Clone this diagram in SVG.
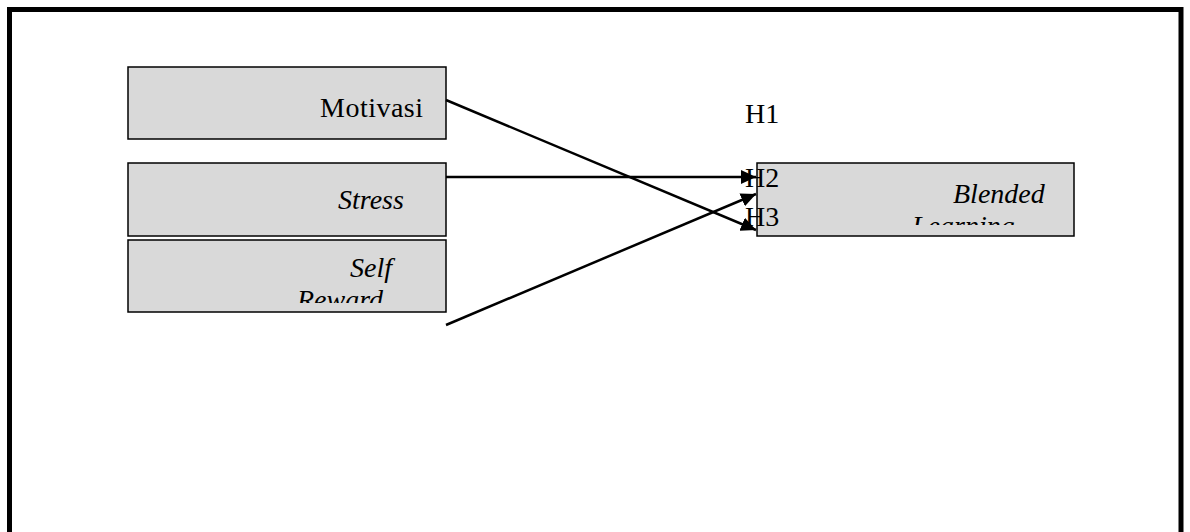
<svg xmlns="http://www.w3.org/2000/svg" width="1190" height="532" viewBox="0 0 1190 532">
<style>
.box{fill:#d9d9d9;stroke:#000;stroke-width:1.5}
.t{font-family:"Liberation Serif","Times New Roman",serif;font-size:28px;fill:#000}
.i{font-style:italic}
.c{stroke:#000;stroke-width:2.5;fill:none}
</style>
<defs>
<marker id="ah" markerUnits="userSpaceOnUse" markerWidth="16" markerHeight="14" refX="15" refY="7" orient="auto">
<path d="M0,0 L15,7 L0,14 Z" fill="#000"/>
</marker>
<clipPath id="clipSR"><rect x="129" y="241" width="316" height="62"/></clipPath>
<clipPath id="clipBL"><rect x="758" y="164" width="315" height="61"/></clipPath>
</defs>
<rect width="1190" height="532" fill="#fff"/>
<path d="M9.5,545 V9.5 H1181 V545" fill="none" stroke="#000" stroke-width="5"/>
<g id="motivasi">
<rect class="box" x="128" y="67" width="318" height="72"/>
<text class="t" x="320" y="117" textLength="103">Motivasi</text>
</g>
<g id="stress">
<rect class="box" x="128" y="163" width="318" height="73"/>
<text class="t i" x="338" y="209">Stress</text>
</g>
<g id="self-reward">
<rect class="box" x="128" y="240" width="318" height="72"/>
<g clip-path="url(#clipSR)">
<text class="t i" x="350" y="277">Self</text>
<text class="t i" x="297" y="309">Reward</text>
</g>
</g>
<g id="blended-learning">
<rect class="box" x="757" y="163" width="317" height="73"/>
<g clip-path="url(#clipBL)">
<text class="t i" x="953" y="203">Blended</text>
<text class="t i" x="912" y="235">Learning</text>
</g>
</g>
<g id="connectors">
<line class="c" x1="446" y1="100" x2="756" y2="230" marker-end="url(#ah)"/>
<line class="c" x1="446" y1="177" x2="756" y2="177" marker-end="url(#ah)"/>
<line class="c" x1="446" y1="325" x2="756" y2="194" marker-end="url(#ah)"/>
</g>
<g id="labels">
<text class="t" x="745" y="123">H1</text>
<text class="t" x="745" y="187">H2</text>
<text class="t" x="745" y="226">H3</text>
</g>
</svg>
